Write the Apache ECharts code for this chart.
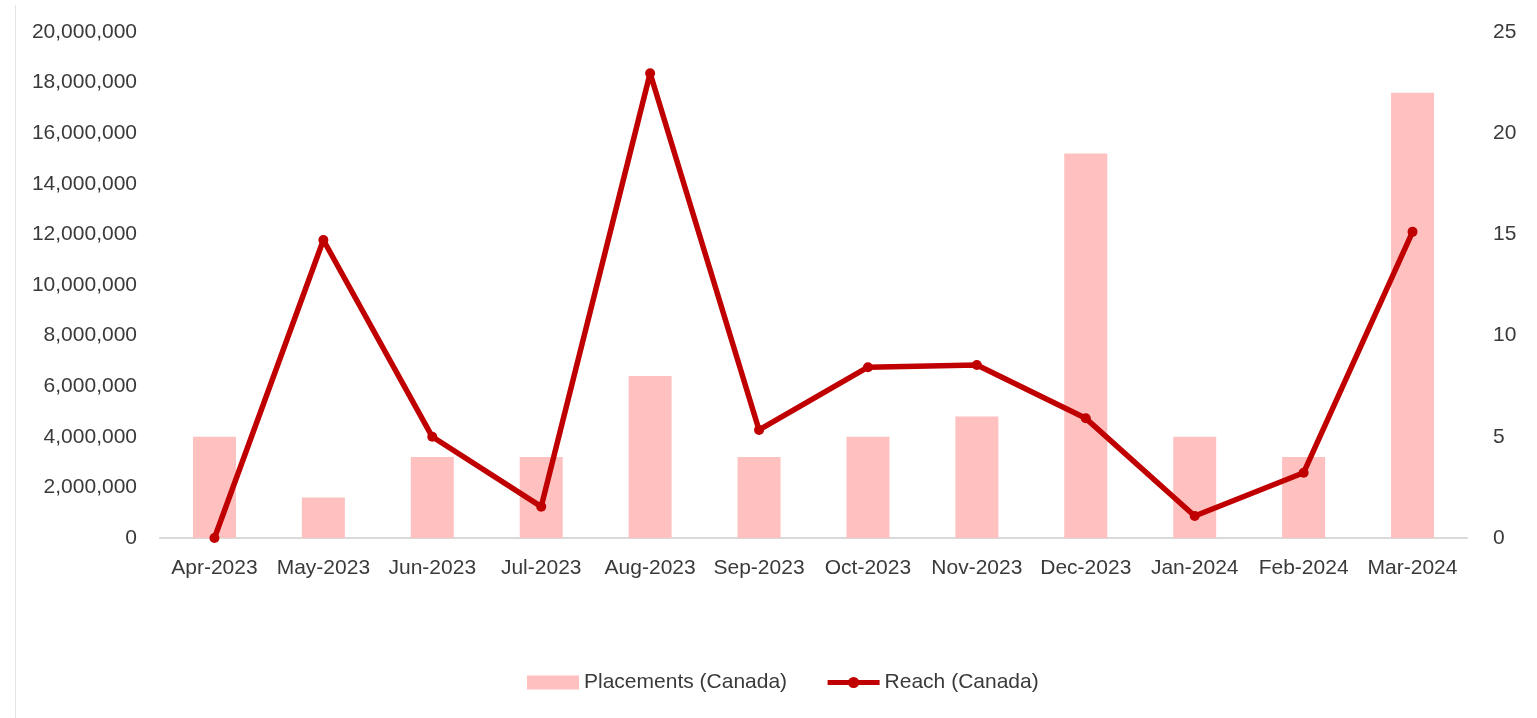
<!DOCTYPE html>
<html>
<head>
<meta charset="utf-8">
<script src="https://cdn.jsdelivr.net/npm/echarts@6/dist/echarts.min.js"></script>
<style>html,body{margin:0;padding:0;background:#fff;}#c{width:1537px;height:718px;}</style>
</head>
<body>
<div id="c"></div>
<script>
const categories = ['Apr-2023','May-2023','Jun-2023','Jul-2023','Aug-2023','Sep-2023','Oct-2023','Nov-2023','Dec-2023','Jan-2024','Feb-2024','Mar-2024'];
const placements = [5, 2, 4, 4, 8, 4, 5, 6, 19, 5, 4, 22];
const reach = [0, 11780000, 4000000, 1240000, 18370000, 4270000, 6750000, 6840000, 4730000, 870000, 2580000, 12100000];
const leftTicks = {min: 0, max: 20000000, interval: 2000000};
const rightTicks = {min: 0, max: 25, interval: 5};

const font = 'Liberation Sans';
const txt = '#3a3a3a';
const chart = echarts.init(document.getElementById('c'));
chart.setOption({
  animation: false,
  textStyle: {fontFamily: font},
  grid: {left: 160, right: 70, top: 32, bottom: 180, containLabel: false},
  graphic: [{type: 'line', shape: {x1: 15.5, y1: 5, x2: 15.5, y2: 718}, style: {stroke: '#e3e3e3', lineWidth: 1}}],
  legend: {
    left: 522, top: 667,
    itemWidth: 52, itemHeight: 14, itemGap: 38,
    textStyle: {fontFamily: font, fontSize: 21, color: txt, padding: [0, 0, 0, 0]},
    data: [
      {name: 'Placements (Canada)', icon: 'rect'},
      {name: 'Reach (Canada)', lineStyle: {width: 5}}
    ]
  },
  xAxis: {
    type: 'category', data: categories,
    axisLine: {lineStyle: {color: '#d9d9d9', width: 2}},
    axisTick: {show: false},
    axisLabel: {fontFamily: font, fontSize: 21, color: txt, margin: 20, interval: 0}
  },
  yAxis: [
    {type: 'value', min: leftTicks.min, max: leftTicks.max, interval: leftTicks.interval,
     splitLine: {show: false}, axisLine: {show: false}, axisTick: {show: false},
     axisLabel: {fontFamily: font, fontSize: 21, color: txt, margin: 23,
       formatter: v => v.toLocaleString('en-US')}},
    {type: 'value', min: rightTicks.min, max: rightTicks.max, interval: rightTicks.interval,
     splitLine: {show: false}, axisLine: {show: false}, axisTick: {show: false},
     axisLabel: {fontFamily: font, fontSize: 21, color: txt, margin: 26}}
  ],
  series: [
    {name: 'Placements (Canada)', type: 'bar', yAxisIndex: 1, data: placements,
     barWidth: 43, itemStyle: {color: '#FFC0C0'}},
    {name: 'Reach (Canada)', type: 'line', yAxisIndex: 0, data: reach,
     symbol: 'circle', symbolSize: 10, z: 5,
     lineStyle: {color: '#C00000', width: 5.5},
     itemStyle: {color: '#C00000'}}
  ]
});
</script>
</body>
</html>
